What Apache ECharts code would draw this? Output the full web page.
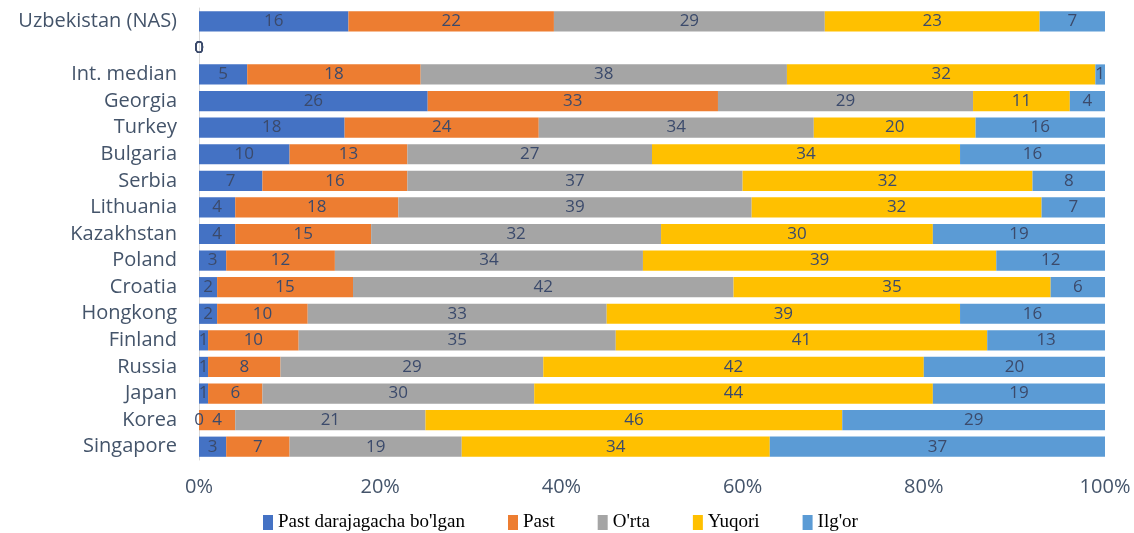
<!DOCTYPE html>
<html>
<head>
<meta charset="utf-8">
<script src="https://cdn.jsdelivr.net/npm/echarts@6/dist/echarts.min.js"></script>
<style>
  html, body { margin: 0; padding: 0; background: #fff; }
  #main { width: 1134px; height: 533px; }
</style>
</head>
<body>
<div id="main"></div>
<script>
  // kategoriyalar (yuqoridan pastga)
  var countries = ['Uzbekistan (NAS)', '', 'Int. median', 'Georgia', 'Turkey', 'Bulgaria', 'Serbia',
    'Lithuania', 'Kazakhstan', 'Poland', 'Croatia', 'Hongkong', 'Finland', 'Russia', 'Japan', 'Korea', 'Singapore'];

  var levelNames = ["Past darajagacha bo'lgan", 'Past', "O'rta", 'Yuqori', "Ilg'or"];
  var levelColors = ['#4472C4', '#ED7D31', '#A5A5A5', '#FFC000', '#5B9BD5'];

  var belowLow = [16, 0, 5, 26, 18, 10, 7, 4, 4, 3, 2, 2, 1, 1, 1, 0, 3];
  var low      = [22, 0, 18, 33, 24, 13, 16, 18, 15, 12, 15, 10, 10, 8, 6, 4, 7];
  var middle   = [29, 0, 38, 29, 34, 27, 37, 39, 32, 34, 42, 33, 35, 29, 30, 21, 19];
  var high     = [23, 0, 32, 11, 20, 34, 32, 32, 30, 39, 35, 39, 41, 42, 44, 46, 34];
  var advanced = [7, 0, 1, 4, 16, 16, 8, 7, 19, 12, 6, 16, 13, 20, 19, 29, 37];

  var xTicks = [0, 20, 40, 60, 80, 100];

  var raw = [belowLow, low, middle, high, advanced];

  // 100% ga keltirish
  var totals = countries.map(function (c, i) {
    var s = 0;
    raw.forEach(function (arr) { s += arr[i]; });
    return s || 1;
  });

  var series = raw.map(function (arr, k) {
    return {
      name: levelNames[k],
      type: 'bar',
      stack: 'all',
      barCategoryGap: '24%',
      itemStyle: { color: levelColors[k] },
      label: {
        show: true,
        position: 'inside',
        color: '#3b4a6b',
        fontSize: 17,
        fontFamily: 'Open Sans',
        formatter: function (p) { return raw[k][p.dataIndex]; }
      },
      data: arr.map(function (v, i) { return v / totals[i] * 100; })
    };
  });

  var myChart = echarts.init(document.getElementById('main'));
  var option = {
    animation: false,
    grid: { left: 199, right: 29, top: 8, bottom: 73 },
    legend: {
      data: levelNames,
      left: 258,
      top: 508,
      icon: 'rect',
      itemWidth: 10,
      itemHeight: 15,
      itemGap: 43,
      textStyle: { fontFamily: 'Liberation Serif', fontSize: 19, color: '#000' }
    },
    xAxis: {
      type: 'value',
      min: xTicks[0],
      max: xTicks[xTicks.length - 1],
      interval: 20,
      axisLine: { show: false },
      axisTick: { show: false },
      splitLine: { show: false },
      axisLabel: {
        margin: 17,
        color: '#44546a',
        fontSize: 20,
        fontFamily: 'Open Sans',
        formatter: '{value}%'
      }
    },
    yAxis: {
      type: 'category',
      inverse: true,
      data: countries,
      axisLine: { show: true, lineStyle: { color: '#d9d9d9', width: 1 } },
      axisTick: { show: false },
      axisLabel: {
        margin: 22,
        color: '#44546a',
        fontSize: 20,
        fontFamily: 'Open Sans'
      }
    },
    series: series
  };
  myChart.setOption(option);
</script>
</body>
</html>
